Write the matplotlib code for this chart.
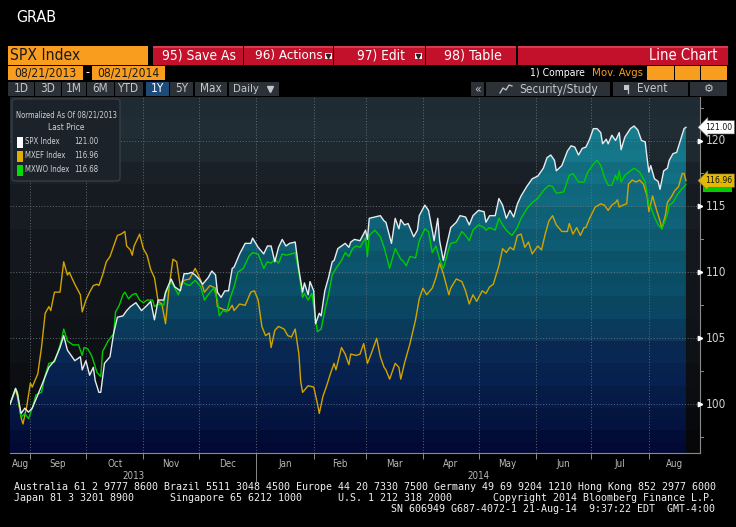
import numpy as np
import pandas as pd
import matplotlib
matplotlib.use('Agg')
import matplotlib.pyplot as plt
import matplotlib.transforms as mtrans
from matplotlib import font_manager as fm
from matplotlib.patches import Rectangle, Polygon, FancyBboxPatch
from matplotlib.colors import to_rgb

# ---- data (days after 21-Aug-2013, normalized to 100) ----
START = pd.Timestamp('2013-08-21')

spx_days = [0, 3, 4, 6, 8, 10, 12, 15, 19, 21, 24, 27, 29, 31, 35, 38, 39, 41, 43, 45,
            46, 48, 49, 51, 54, 56, 58, 61, 63, 65, 68, 71, 74, 76, 78, 80, 83, 84, 87, 89,
            92, 94, 96, 98, 100, 102, 104, 107, 109, 111, 112, 114, 116, 118, 120, 121, 124, 127, 130, 131,
            134, 137, 139, 141, 143, 145, 147, 149, 151, 154, 156, 158, 159, 161, 162, 164, 165, 167, 168, 170,
            172, 174, 175, 177, 179, 181, 183, 184, 186, 189, 192, 193, 194, 197, 200, 202, 203, 206, 208, 210,
            211, 213, 215, 218, 220, 221, 224, 226, 228, 229, 231, 232, 234, 236, 238, 241, 243, 246, 248, 250,
            253, 256, 257, 259, 262, 264, 266, 268, 270, 272, 274, 276, 279, 282, 285, 288, 290, 292, 294, 295,
            298, 301, 303, 305, 307, 309, 311, 313, 315, 317, 319, 320, 322, 323, 325, 327, 329, 330, 332, 335,
            337, 339, 341, 343, 344, 345, 346, 348, 350, 351, 353, 355, 356, 358, 360, 362, 364, 365]
spx_vals = [100.0, 101.2, 100.8, 99.3, 99.7, 99.4, 99.7, 100.7, 102.1, 102.8, 103.3, 104.3, 105.2, 104.1, 103.3, 103.6, 102.6, 103.3, 102.2, 102.8,
            101.8, 100.9, 100.9, 103.1, 103.6, 105.4, 106.6, 106.7, 107.1, 107.4, 107.7, 107.1, 107.5, 107.8, 106.4, 107.9, 107.9, 108.5, 109.5, 108.9,
            108.6, 109.9, 109.9, 110.0, 109.8, 109.5, 109.1, 109.6, 110.1, 109.8, 108.5, 108.1, 108.6, 108.6, 110.3, 110.4, 111.4, 112.2, 112.2, 112.6,
            111.9, 111.4, 112.0, 112.0, 110.8, 111.9, 112.5, 112.0, 112.2, 112.3, 110.2, 108.5, 109.2, 108.3, 109.3, 108.6, 106.1, 106.9, 106.7, 108.6,
            109.6, 110.8, 110.9, 111.8, 112.0, 112.2, 111.9, 112.3, 112.5, 112.4, 113.2, 112.5, 114.1, 114.2, 114.3, 113.9, 113.8, 112.2, 114.1, 113.3,
            114.0, 113.6, 113.7, 112.7, 113.2, 114.3, 115.1, 114.7, 113.2, 112.4, 114.1, 112.4, 110.9, 112.2, 113.4, 113.8, 114.3, 114.2, 113.6, 114.3,
            114.7, 114.6, 113.8, 114.3, 114.3, 115.6, 115.1, 114.1, 114.7, 114.2, 115.2, 115.8, 116.5, 117.1, 117.3, 117.9, 118.7, 118.9, 118.5, 117.7,
            118.1, 119.2, 119.6, 119.5, 118.9, 119.4, 119.5, 120.1, 120.9, 120.9, 120.6, 119.75, 120.1, 119.75, 120.4, 120.0, 120.6, 119.3, 120.25, 120.9,
            121.1, 120.8, 120.0, 119.9, 118.7, 117.6, 118.1, 117.1, 116.9, 116.3, 117.7, 117.9, 118.5, 119.0, 119.1, 120.0, 120.9, 121.00]

mxef_days = [0, 3, 4, 6, 7, 9, 11, 12, 15, 17, 19, 21, 22, 24, 27, 29, 31, 32, 35, 38,
             39, 41, 43, 45, 47, 48, 50, 52, 54, 56, 58, 60, 62, 63, 65, 66, 67, 70, 72, 74,
             76, 78, 80, 82, 84, 86, 88, 90, 92, 94, 97, 100, 103, 105, 108, 111, 112, 115, 118, 120,
             121, 124, 127, 130, 132, 134, 136, 138, 140, 141, 143, 145, 148, 150, 152, 154, 156, 157, 158, 161,
             164, 166, 167, 169, 171, 173, 175, 176, 179, 181, 183, 184, 187, 189, 191, 193, 195, 198, 200, 202,
             203, 205, 208, 210, 211, 213, 216, 219, 221, 223, 225, 228, 230, 232, 234, 237, 238, 241, 244, 246,
             248, 250, 252, 255, 257, 259, 261, 264, 266, 268, 270, 272, 274, 276, 278, 280, 282, 285, 287, 289,
             291, 293, 295, 298, 301, 302, 304, 306, 308, 310, 311, 313, 316, 319, 321, 323, 325, 327, 328, 329,
             331, 333, 334, 336, 338, 340, 342, 344, 345, 347, 349, 351, 352, 354, 355, 357, 359, 361, 363, 364, 365]
mxef_vals = [100.0, 101.1, 100.6, 99.0, 98.5, 99.8, 101.6, 101.3, 102.3, 104.3, 106.9, 107.4, 107.1, 108.5, 108.5, 110.8, 109.8, 110.0, 109.1, 108.3,
             107.0, 107.9, 108.5, 109.0, 109.1, 109.0, 109.8, 110.8, 111.2, 112.0, 112.8, 112.9, 113.1, 112.0, 111.7, 111.3, 112.0, 112.9, 111.8, 111.3,
             110.2, 109.6, 107.8, 107.6, 106.1, 109.0, 111.0, 110.8, 108.9, 109.4, 109.5, 110.3, 109.4, 108.5, 109.0, 108.8, 107.4, 107.2, 107.1, 107.5,
             107.1, 107.6, 107.5, 108.5, 108.6, 107.9, 105.9, 105.2, 105.4, 104.3, 105.6, 105.9, 105.7, 105.2, 105.1, 105.7, 103.8, 101.7, 100.9, 101.4,
             101.3, 100.05, 99.3, 100.6, 101.4, 102.3, 103.1, 102.6, 104.3, 103.8, 103.0, 103.8, 103.7, 103.8, 104.6, 103.1, 103.8, 105.0, 103.6, 102.8,
             102.6, 101.9, 103.1, 102.8, 101.9, 103.1, 104.6, 106.4, 108.0, 108.8, 108.3, 108.8, 109.6, 110.7, 109.9, 108.3, 108.8, 109.5, 109.3, 108.6,
             107.6, 108.3, 107.8, 108.6, 108.4, 108.9, 109.1, 110.5, 111.8, 111.5, 111.9, 111.7, 112.8, 112.9, 111.9, 112.3, 111.4, 112.0, 111.7, 112.9,
             113.9, 114.3, 113.6, 113.1, 113.1, 113.7, 112.9, 113.4, 112.8, 113.4, 113.4, 114.1, 114.95, 115.2, 115.1, 114.7, 115.1, 115.3, 115.5, 114.95,
             115.1, 115.2, 116.7, 117.0, 116.85, 117.0, 116.7, 115.8, 114.6, 115.8, 114.8, 113.9, 113.3, 114.4, 115.3, 115.7, 116.2, 116.5, 117.5, 117.5, 116.96]

mxwo_days = [0, 3, 4, 6, 8, 10, 12, 14, 17, 19, 21, 24, 26, 28, 29, 31, 34, 37, 39, 40,
             42, 44, 45, 47, 49, 50, 53, 56, 57, 59, 61, 62, 64, 66, 68, 70, 72, 74, 77, 78,
             80, 83, 84, 87, 89, 91, 93, 95, 97, 100, 103, 105, 107, 110, 112, 113, 115, 117, 119, 121,
             123, 126, 129, 131, 134, 137, 139, 141, 143, 145, 147, 149, 152, 154, 156, 158, 159, 161, 163, 165,
             166, 168, 170, 172, 174, 176, 179, 181, 183, 185, 187, 189, 192, 193, 194, 197, 200, 202, 205, 208,
             211, 212, 214, 216, 219, 221, 224, 226, 228, 230, 232, 234, 237, 238, 241, 244, 246, 248, 250, 253,
             256, 257, 259, 262, 264, 266, 268, 271, 274, 276, 279, 282, 285, 288, 291, 293, 295, 299, 302, 304,
             307, 310, 312, 315, 317, 319, 321, 323, 325, 327, 328, 329, 330, 332, 335, 337, 340, 343, 345, 346,
             348, 350, 352, 355, 356, 358, 360, 362, 364, 365]
mxwo_vals = [100.0, 101.2, 100.9, 99.0, 99.3, 98.9, 99.7, 100.7, 100.9, 102.2, 103.1, 103.2, 104.0, 105.0, 105.7, 104.8, 104.5, 104.5, 103.7, 104.3,
             104.2, 103.7, 103.3, 102.4, 102.1, 104.0, 104.8, 105.35, 107.0, 107.5, 108.3, 108.5, 108.0, 108.3, 108.4, 107.9, 107.7, 107.9, 107.9, 107.4,
             107.6, 107.5, 108.4, 109.3, 108.8, 108.3, 109.3, 109.1, 109.0, 109.4, 108.9, 107.9, 108.3, 108.8, 107.9, 106.7, 107.1, 107.0, 108.1, 108.9,
             110.0, 110.3, 111.2, 111.5, 111.4, 110.3, 110.8, 110.7, 111.0, 110.7, 111.4, 111.3, 111.4, 111.5, 110.0, 108.1, 108.4, 107.9, 108.4, 106.5,
             105.5, 105.7, 107.1, 108.3, 109.8, 110.3, 110.9, 111.5, 111.2, 111.8, 112.0, 111.9, 112.6, 111.2, 112.8, 113.2, 112.7, 111.9, 110.3, 111.8,
             111.0, 110.9, 110.5, 111.2, 111.1, 112.4, 113.3, 113.1, 111.5, 112.0, 111.0, 110.3, 111.8, 112.2, 112.3, 113.1, 112.8, 112.4, 113.2, 113.6,
             113.4, 113.2, 113.4, 113.2, 114.1, 113.6, 113.2, 112.8, 113.4, 114.1, 114.8, 115.3, 115.6, 116.2, 116.6, 116.5, 116.0, 116.1, 117.35, 117.5,
             116.85, 116.85, 117.6, 118.2, 118.5, 118.1, 117.2, 116.6, 116.6, 117.35, 117.0, 117.7, 116.85, 117.35, 117.7, 117.9, 117.6, 116.85, 115.1, 114.95,
             114.2, 113.6, 113.3, 114.4, 115.1, 115.3, 115.8, 116.2, 116.5, 116.68]

series_names = ['SPX Index', 'MXEF Index', 'MXWO Index']
series_colors = ['#e4ecef', '#d2a400', '#00cc00']
legend_colors = ['#ffffff', '#e0b000', '#00e000']
major_y = [100, 105, 110, 115, 120]
minor_y = [97.5, 102.5, 107.5, 112.5, 117.5, 122.5]
month_labels = ['Aug', 'Sep', 'Oct', 'Nov', 'Dec', 'Jan', 'Feb', 'Mar', 'Apr', 'May', 'Jun', 'Jul', 'Aug']
year_labels = ['2013', '2014']
period_buttons = ['1D', '3D', '1M', '6M', 'YTD', '1Y', '5Y', 'Max', 'Daily']
footer1 = 'Australia 61 2 9777 8600 Brazil 5511 3048 4500 Europe 44 20 7330 7500 Germany 49 69 9204 1210 Hong Kong 852 2977 6000'
footer2 = ['Japan 81 3 3201 8900', 'Singapore 65 6212 1000', 'U.S. 1 212 318 2000', 'Copyright 2014 Bloomberg Finance L.P.']
footer3 = 'SN 606949 G687-4072-1 21-Aug-14  9:37:22 EDT  GMT-4:00'

Y0, Y1 = 96.3, 123.3
XMAX = 372.6

# ---- fonts: a narrow face if one is installed, else Liberation Sans ----
NARROW = None
for f in fm.fontManager.ttflist:
    n = (f.name + ' ' + f.fname).lower()
    bad = any(w in n for w in ('bold', 'italic', 'oblique', 'light', 'thin', 'black', 'medium',
                               'semi', 'extra', 'ultra', 'mono', 'cjk'))
    if ('narrow' in n or 'condensed' in n) and not bad and f.style == 'normal':
        NARROW = f.fname
        break

def fp(size):
    if NARROW:
        return fm.FontProperties(fname=NARROW, size=size)
    return fm.FontProperties(family=['Liberation Sans', 'DejaVu Sans'], size=size)

MONO = fm.FontProperties(family='DejaVu Sans Mono', size=7.2)

def banded(stops, lo, hi, step, shade=0.05):
    v = np.array([s[0] for s in stops])
    c = np.array([to_rgb(s[1]) for s in stops])
    ys = np.linspace(lo, hi, 900)
    k = np.floor((ys - lo) / step)
    mid = lo + (k + 0.5) * step
    rgb = np.stack([np.interp(mid, v, c[:, i]) for i in range(3)], axis=1)
    rgb = rgb * (1 - shade * (k % 2))[:, None]
    return np.clip(rgb, 0, 1)[:, None, :]

bg_stops = [(96.3, '#060608'), (100, '#0b0d11'), (105, '#101318'), (110, '#14181e'),
            (115, '#181d24'), (117.8, '#1b2129'), (117.9, '#202a32'), (123.3, '#233039')]
fill_stops = [(96.3, '#020834'), (98, '#03103c'), (100, '#051a48'), (102, '#072250'),
              (104.4, '#0a2a56'), (104.6, '#0a3558'), (106, '#0a4060'), (108, '#0b4c68'),
              (112, '#0e5c74'), (116, '#116c81'), (120, '#167c8e'), (123.3, '#198496')]

W, H = 736, 527
fig = plt.figure(figsize=(W / 100, H / 100), dpi=100, facecolor='black')
renderer = fig.canvas.get_renderer()

def fit(t, width):
    w = t.get_window_extent(renderer).width
    if w > width:
        t.set_fontsize(t.get_fontsize() * width / w)
    return t

ui = fig.add_axes([0, 0, 1, 1])
ui.set_xlim(0, W)
ui.set_ylim(H, 0)
ui.axis('off')

ax = fig.add_axes([10 / W, (H - 453) / H, 690 / W, 356 / H])
ax.set_facecolor('black')

ax.imshow(banded(bg_stops, Y0, Y1, 1.7, 0.08), extent=(0, XMAX, Y0, Y1), origin='lower',
          aspect='auto', interpolation='nearest', zorder=0)
im = ax.imshow(banded(fill_stops, Y0, Y1, 0.85, 0.06), extent=(0, spx_days[-1], Y0, Y1), origin='lower',
               aspect='auto', interpolation='nearest', zorder=1)
clip = Polygon(list(zip(spx_days, spx_vals)) + [(spx_days[-1], Y0), (spx_days[0], Y0)],
               closed=True, fc='none', ec='none')
ax.add_patch(clip)
im.set_clip_path(clip)

month_starts = pd.date_range('2013-09-01', '2014-08-01', freq='MS')
ms_days = [(d - START).days for d in month_starts]
grid_kw = dict(color='#6a737d', lw=0.6, ls=(0, (1.2, 2.2)), zorder=2)
for v in major_y:
    ax.axhline(v, **grid_kw)
for d in ms_days:
    ax.axvline(d, **grid_kw)

ax.plot(mxef_days, mxef_vals, color=series_colors[1], lw=1.0, zorder=3)
ax.plot(mxwo_days, mxwo_vals, color=series_colors[2], lw=1.0, zorder=4)
ax.plot(spx_days, spx_vals, color=series_colors[0], lw=1.0, zorder=5)

ax.set_xlim(0, XMAX)
ax.set_ylim(Y0, Y1)
for s in ['left', 'top']:
    ax.spines[s].set_visible(False)
for s in ['right', 'bottom']:
    ax.spines[s].set_color('#8a8a8a')
    ax.spines[s].set_linewidth(0.8)
ax.set_yticks([])
ax.set_xticks(ms_days)
ax.set_xticklabels([])
ax.tick_params(axis='x', length=4, width=0.7, color='#8a8a8a', direction='out')

# right axis marks and labels
ty = mtrans.blended_transform_factory(ax.transAxes, ax.transData)
ax.plot([1.0] * len(major_y), major_y, ls='none', marker='>', ms=3.2, color='white',
        transform=ty, clip_on=False, zorder=6)
for v in major_y:
    ax.text(1.0085, v, str(v), transform=ty, ha='left', va='center', color='#d2d2d2',
            fontproperties=fp(8.5), clip_on=False)
for v in minor_y:
    ax.plot([1.0, 1.0045], [v, v], transform=ty, color='#8a8a8a', lw=0.7, clip_on=False)

# month / year labels
tx = mtrans.blended_transform_factory(ax.transData, ax.transAxes)
bounds = [0] + ms_days + [XMAX]
for i, lab in enumerate(month_labels):
    ax.text((bounds[i] + bounds[i + 1]) / 2, -0.03, lab, transform=tx, ha='center', va='center',
            color='#b8b8b8', fontproperties=fp(7))
jan = (pd.Timestamp('2014-01-01') - START).days
for lab, (a, b) in zip(year_labels, [(0, jan), (jan, XMAX)]):
    ax.text((a + b) / 2, -0.066, lab, transform=tx, ha='center', va='center',
            color='#b8b8b8', fontproperties=fp(7))
ax.plot([jan, jan], [0, -0.085], transform=tx, color='#8a8a8a', lw=0.7, clip_on=False)

# last value tags on the right (MXWO tag sits under the MXEF one)
ax.add_patch(Rectangle((1.004, mxwo_vals[-1] - 0.6), 0.043, 1.2, transform=ty, clip_on=False,
                       fc=series_colors[2], ec='none', zorder=9))
for val, fc in [(mxef_vals[-1], '#e5b800'), (spx_vals[-1], 'white')]:
    ax.text(1.0075, val, f'{val:.2f}', transform=ty, ha='left', va='center', color='#111111',
            fontproperties=fp(6.2), clip_on=False, zorder=10,
            bbox=dict(boxstyle='larrow,pad=0.25', fc=fc, ec='#666666', lw=0.4))

# ---- header ----
ui.text(16, 17, 'GRAB', color='white', va='center', ha='left', fontproperties=fp(11.5))

ui.add_patch(Rectangle((8, 46), 140, 19, fc='#f99d1f', ec='none'))
fit(ui.text(10, 55.5, 'SPX Index', color='#1a1a1a', va='center', fontproperties=fp(11.5)), 70)
red_spans = [(152.5, 243), (244, 333), (334, 425), (426, 516), (518, 728)]
for a, b in red_spans:
    ui.add_patch(Rectangle((a, 46), b - a, 19, fc='#c3112c', ec='none'))
    ui.add_patch(Rectangle((a, 46), b - a, 2, fc='#d83a50', ec='none'))
red_texts = [(162, '95) Save As', 74), (255, '96) Actions', 68), (357, '97) Edit', 48), (444, '98) Table', 58)]
for x, t, w in red_texts:
    fit(ui.text(x, 55.5, t, color='white', va='center', fontproperties=fp(11)), w)
for x in (328, 418):
    ui.add_patch(Rectangle((x - 3.5, 52.5), 7, 6, fc='white', ec='none'))
    ui.plot(x, 55.5, marker='v', ms=3, color='#222222')
fit(ui.text(717, 55.5, 'Line Chart', color='white', va='center', ha='right', fontproperties=fp(11)), 68)

ui.add_patch(Rectangle((8, 66), 75, 14, fc='#f99d1f', ec='none'))
fit(ui.text(45.5, 73, '08/21/2013', color='#1a1a1a', va='center', ha='center', fontproperties=fp(9)), 62)
ui.text(87.5, 73, '-', color='white', va='center', ha='center', fontproperties=fp(9))
ui.add_patch(Rectangle((92, 66), 73, 14, fc='#f99d1f', ec='none'))
fit(ui.text(128.5, 73, '08/21/2014', color='#1a1a1a', va='center', ha='center', fontproperties=fp(9)), 62)
fit(ui.text(530, 73, '1) Compare', color='white', va='center', fontproperties=fp(8.5)), 55)
fit(ui.text(592, 73, 'Mov. Avgs', color='#f99d1f', va='center', fontproperties=fp(8.5)), 51)
for a, b in [(647, 674), (675, 700), (701, 727)]:
    ui.add_patch(Rectangle((a, 66), b - a, 14, fc='#f99d1f', ec='none'))

btn_spans = [(8, 34), (35, 61), (62, 86), (87, 114), (115, 143), (146, 169), (170, 193), (195, 227), (229, 279)]
for lab, (a, b) in zip(period_buttons, btn_spans):
    hi = lab == '1Y'
    ui.add_patch(Rectangle((a, 82), b - a, 14, fc='#1d4b78' if hi else '#2c3137', ec='none'))
    if lab == 'Daily':
        fit(ui.text(233, 89, lab, color='#c4c8cc', va='center', fontproperties=fp(8.5)), 26)
        ui.plot(270, 89, marker='v', ms=4.5, color='#c4c8cc')
    else:
        ui.text((a + b) / 2, 89, lab, color='white' if hi else '#c4c8cc', va='center', ha='center',
                fontproperties=fp(8.5))
for a, b in [(471, 484), (486, 610), (613, 688), (690, 727)]:
    ui.add_patch(Rectangle((a, 82), b - a, 14, fc='#2c3137', ec='none'))
ui.text(477.5, 89, '\u00ab', color='#c4c8cc', va='center', ha='center', fontproperties=fp(8.5))
ui.plot([500, 503, 506, 509, 512], [93, 88, 90, 85, 86], color='#c4c8cc', lw=0.9)
fit(ui.text(519, 89, 'Security/Study', color='#c4c8cc', va='center', fontproperties=fp(8.5)), 78)
ui.add_patch(Rectangle((624, 85), 4, 5, fc='#c4c8cc', ec='none'))
ui.plot([628, 628], [85, 93], color='#c4c8cc', lw=0.9)
ui.text(637, 89, 'Event', color='#c4c8cc', va='center', fontproperties=fp(8.5))
ui.text(708.5, 89, '\u2699', color='#c4c8cc', va='center', ha='center', family='DejaVu Sans', fontsize=8)

# ---- legend box ----
ov = fig.add_axes([0, 0, 1, 1], zorder=5)
ov.set_xlim(0, W)
ov.set_ylim(H, 0)
ov.axis('off')
ov.add_patch(FancyBboxPatch((12, 99), 108, 82, boxstyle='round,pad=0,rounding_size=3',
                            fc='#1b2229', ec='#3c444c', lw=0.8))
fit(ov.text(66, 115, 'Normalized As Of 08/21/2013', color='#cfd3d6', ha='center', va='center',
            fontproperties=fp(6.0)), 102)
ov.text(66, 128, 'Last Price', color='#cfd3d6', ha='center', va='center', fontproperties=fp(6.0))
last_vals = [spx_vals[-1], mxef_vals[-1], mxwo_vals[-1]]
for i, (name, col, val) in enumerate(zip(series_names, legend_colors, last_vals)):
    y = 142 + 14 * i
    ov.add_patch(Rectangle((16.5, y - 5.5), 6.5, 11, fc=col, ec='none'))
    fit(ov.text(25, y, name, color='#cfd3d6', va='center', fontproperties=fp(5.6)), 46)
    fit(ov.text(74, y, f'{val:.2f}', color='#cfd3d6', va='center', fontproperties=fp(5.6)), 30)

# ---- footer (fixed-width terminal text) ----
ui.text(14, 487.5, footer1, color='#f0f0f0', va='center', fontproperties=MONO)
for x, t in zip([14, 170, 338], footer2[:3]):
    ui.text(x, 498, t, color='#f0f0f0', va='center', fontproperties=MONO)
ui.text(715, 498, footer2[3], color='#f0f0f0', va='center', ha='right', fontproperties=MONO)
ui.text(715, 508.5, footer3, color='#f0f0f0', va='center', ha='right', fontproperties=MONO)

fig.savefig('out.png', dpi=100, facecolor='black')
